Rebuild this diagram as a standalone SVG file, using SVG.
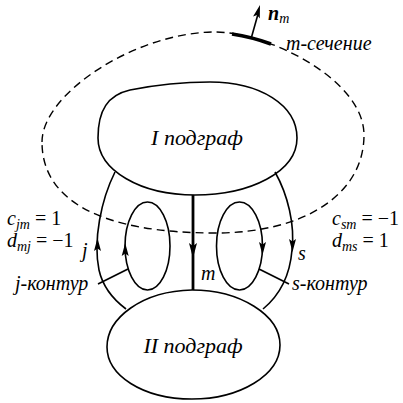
<svg xmlns="http://www.w3.org/2000/svg" width="403" height="403" viewBox="0 0 403 403" font-family="Liberation Serif, serif">
<style>
.ln{fill:none;stroke:#000;stroke-width:1.6}
.th{fill:none;stroke:#000;stroke-width:2.8}
.ds{fill:none;stroke:#000;stroke-width:1.4;stroke-dasharray:8 5}
.ah{fill:#000;stroke:none}
text{font-family:'Liberation Serif',serif;font-size:20px;fill:#000}
.it{font-style:italic}
.big{font-size:22px;font-style:italic}
.sb{font-size:14px;font-style:italic}
</style>
<defs>
<path id="arr" d="M0,0 L-3.5,13 L0,10.5 L3.5,13 Z"/>
</defs>
<g id="cut">
<path class="ds" d="M42,142 C42,93 137,32 215,32 C267,32 364,79 364,135 C364,194 305,233 215,233 C102,233 42,201 42,142 Z"/>
<path d="M232,34 Q252,37 271,44" fill="none" stroke="#000" stroke-width="3.5"/>
<line x1="251" y1="39" x2="258" y2="14" stroke="#000" stroke-width="1.6"/>
<use href="#arr" class="ah" transform="translate(260,5) rotate(16)"/>
</g>
<g id="node-I">
<path class="ln" d="M98,138 C98,110 108,95 130,90 C160,84 185,82 210,82 C260,82 297,105 297,138 C297,172 250,195 195,195 C140,195 98,170 98,138 Z"/>
<text class="big" x="197" y="145" text-anchor="middle">I подграф</text>
</g>
<g id="node-II">
<path class="ln" d="M107,347 C107,318 142,291 192,290 C240,290 280,315 280,345 C280,375 240,399 192,399 C142,399 107,375 107,347 Z"/>
<text class="big" x="193" y="353" text-anchor="middle">II подграф</text>
</g>
<g id="connectors">
<path class="ln" d="M115,172 C101,200 93,240 99,270 C103,288 114,300 126,309"/>
<use href="#arr" class="ah" transform="translate(97.5,238)"/>
<path class="ln" d="M275,172 C288,195 295,225 292,250 C290,275 280,295 263,309"/>
<use href="#arr" class="ah" transform="translate(292.5,252) rotate(180)"/>
<line class="th" x1="193" y1="195" x2="193" y2="290"/>
<use href="#arr" class="ah" transform="translate(193,258) rotate(180) scale(1.15)"/>
<ellipse class="ln" cx="147.5" cy="246" rx="22.5" ry="44"/>
<use href="#arr" class="ah" transform="translate(125.2,243)"/>
<ellipse class="ln" cx="239.5" cy="246" rx="23" ry="44"/>
<use href="#arr" class="ah" transform="translate(262.5,255) rotate(180)"/>
<line class="ln" x1="128" y1="269" x2="98" y2="284"/>
<line class="ln" x1="259" y1="269" x2="289" y2="284"/>
</g>
<g id="labels">
<text x="268" y="20"><tspan class="it" font-weight="bold">n</tspan><tspan class="sb" dy="3">m</tspan></text>
<text class="it" x="286" y="50">m-сечение</text>
<text class="it" x="201" y="280">m</text>
<text class="it" x="82" y="257">j</text>
<text class="it" x="298" y="260">s</text>
<text class="it" x="15" y="290">j-контур</text>
<text class="it" x="292" y="290">s-контур</text>
<text x="7" y="225"><tspan class="it">c</tspan><tspan class="sb" dy="4">jm</tspan><tspan dy="-4"> = 1</tspan></text>
<text x="7" y="247"><tspan class="it">d</tspan><tspan class="sb" dy="4">mj</tspan><tspan dy="-4"> = −1</tspan></text>
<text x="332" y="225"><tspan class="it">c</tspan><tspan class="sb" dy="4">sm</tspan><tspan dy="-4"> = −1</tspan></text>
<text x="332" y="247"><tspan class="it">d</tspan><tspan class="sb" dy="4">ms</tspan><tspan dy="-4"> = 1</tspan></text>
</g>
</svg>
